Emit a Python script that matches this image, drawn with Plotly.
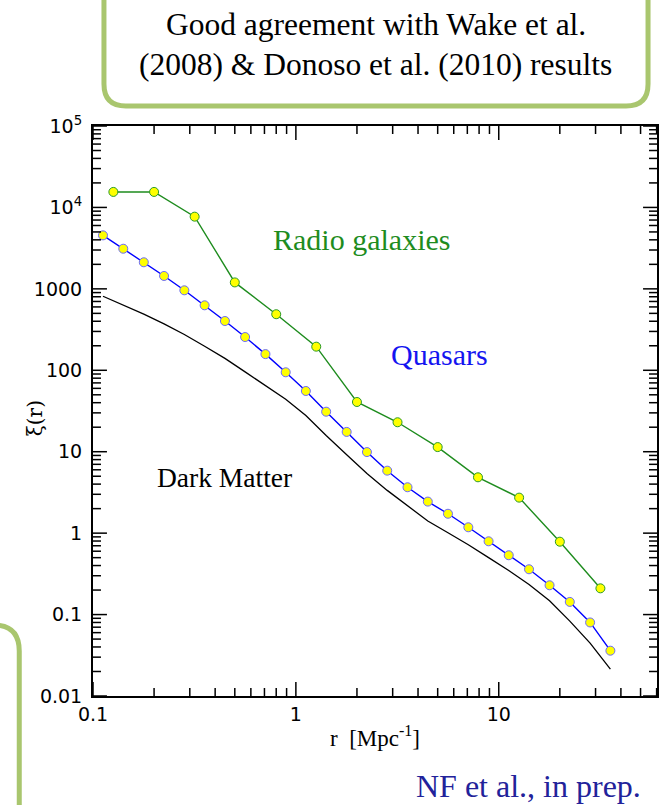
import math
import plotly.graph_objects as go

# Two-point correlation function xi(r) for radio galaxies, quasars and dark matter
radio_r = [0.126, 0.2, 0.317, 0.5, 0.8, 1.26, 2.0, 3.17, 5.0, 7.9, 12.6, 20.0, 31.7]
radio_xi = [15500, 15500, 7700, 1200, 488, 195, 40.8, 23, 11.4, 4.85, 2.73, 0.785, 0.21]

qso_r = [0.112, 0.141, 0.178, 0.224, 0.282, 0.355, 0.447, 0.562, 0.708, 0.891,
         1.12, 1.41, 1.78, 2.24, 2.82, 3.55, 4.47, 5.62, 7.08, 8.91,
         11.2, 14.1, 17.8, 22.4, 28.2, 35.5]
qso_xi = [4540, 3110, 2120, 1440, 960, 628, 403, 256, 158, 94.5,
          55.7, 31, 17.5, 9.9, 5.85, 3.66, 2.44, 1.73, 1.18, 0.794,
          0.535, 0.36, 0.229, 0.143, 0.080, 0.036]

dm_r = qso_r
dm_xi = [811, 631, 490, 372, 275, 197, 140, 95.5, 65.3, 44.2,
         27.9, 15.8, 9.2, 5.4, 3.35, 2.19, 1.41, 1.01, 0.72, 0.50,
         0.347, 0.234, 0.148, 0.083, 0.0447, 0.0214]

x_tickvals = [0.1, 1, 10]
x_ticktext = ["0.1", "1", "10"]
y_tickvals = [0.01, 0.1, 1, 10, 100, 1000, 1e4, 1e5]
y_ticktext = ["0.01", "0.1", "1", "10", "100", "1000", "10<sup>4</sup>", "10<sup>5</sup>"]

W, H = 668, 805
L, R, T, B = 93, 659, 126, 696   # plot-area edges in pixels

def px(x):
    return (x - L) / (R - L)

def py(y):
    return (B - y) / (B - T)

GREEN_BOX = "#a9c66e"
SERIF = "Liberation Serif, Times New Roman, serif"
XRANGE = [-1, 1.78]
YRANGE = [-2, 5]
MAJOR_LEN, MINOR_LEN = 14, 8

fig = go.Figure()

fig.add_trace(go.Scatter(
    x=dm_r, y=dm_xi, mode="lines",
    line=dict(color="black", width=1.3), showlegend=False))

fig.add_trace(go.Scatter(
    x=radio_r, y=radio_xi, mode="lines+markers",
    line=dict(color="#1e8c1e", width=1.4),
    marker=dict(size=9, color="#ffff00", line=dict(color="#2a9a2a", width=1)),
    showlegend=False))

fig.add_trace(go.Scatter(
    x=qso_r, y=qso_xi, mode="lines+markers",
    line=dict(color="#0000ff", width=1.4),
    marker=dict(size=9, color="#ffff00", line=dict(color="#6a6aff", width=1)),
    showlegend=False))

tick_font = dict(family="DejaVu Sans", size=19, color="black")
axis_common = dict(
    type="log", tickmode="array",
    showline=True, linecolor="black", linewidth=2, mirror=True,
    ticks="", showgrid=False, zeroline=False, tickfont=tick_font,
)

fig.update_layout(
    xaxis=dict(
        range=XRANGE, tickvals=x_tickvals, ticktext=x_ticktext,
        title=dict(text="r  [Mpc<sup>-1</sup>]",
                   font=dict(family=SERIF, size=23, color="black"), standoff=6),
        **axis_common,
    ),
    yaxis=dict(
        range=YRANGE, tickvals=y_tickvals, ticktext=y_ticktext, ticklabelstandoff=5,
        **axis_common,
    ),
)


def log_positions(decades, lo, hi):
    """(fraction along the axis, is_decade) for every 1..9 x 10^n inside [lo, hi]."""
    out = []
    for d in decades:
        for m in range(1, 10):
            lv = math.log10(m * d)
            if lo - 1e-9 <= lv <= hi + 1e-9:
                out.append(((lv - lo) / (hi - lo), m == 1))
    return out


# inward tick marks on all four sides: long at decades, short in between
shapes = []
tick_style = dict(color="black", width=1.5)
for f, major in log_positions(x_tickvals, *XRANGE):
    dy = (MAJOR_LEN if major else MINOR_LEN) / (B - T)
    for y0, y1 in [(0, dy), (1 - dy, 1)]:
        shapes.append(dict(type="line", xref="paper", yref="paper",
                           x0=f, x1=f, y0=y0, y1=y1, line=tick_style))
for f, major in log_positions(y_tickvals, *YRANGE):
    dx = (MAJOR_LEN if major else MINOR_LEN) / (R - L)
    for x0, x1 in [(0, dx), (1 - dx, 1)]:
        shapes.append(dict(type="line", xref="paper", yref="paper",
                           x0=x0, x1=x1, y0=f, y1=f, line=tick_style))

# Rounded callout box at the top
bx0, bx1, by1, r0 = 104, 650, 106, 22
top_box = (f"M {px(bx0)},{py(-10)} L {px(bx0)},{py(by1 - r0)} "
           f"Q {px(bx0)},{py(by1)} {px(bx0 + r0)},{py(by1)} "
           f"L {px(bx1 - r0)},{py(by1)} "
           f"Q {px(bx1)},{py(by1)} {px(bx1)},{py(by1 - r0)} "
           f"L {px(bx1)},{py(-10)}")
# Corner of a second box at the lower left
cx, cy, r1 = 19, 625, 26
low_box = (f"M {px(-10)},{py(cy)} L {px(cx - r1)},{py(cy)} "
           f"Q {px(cx)},{py(cy)} {px(cx)},{py(cy + r1)} "
           f"L {px(cx)},{py(815)}")

shapes += [
    dict(type="path", xref="paper", yref="paper", path=top_box,
         line=dict(color=GREEN_BOX, width=5), layer="above"),
    dict(type="path", xref="paper", yref="paper", path=low_box,
         line=dict(color=GREEN_BOX, width=5), layer="above"),
]

def label(text, x, y, size, color, family=SERIF, angle=0):
    return dict(text=text, x=px(x), y=py(y), xref="paper", yref="paper",
                xanchor="center", yanchor="middle", showarrow=False,
                textangle=angle, font=dict(family=family, size=size, color=color))

annotations = [
    label("Good agreement with Wake et al.", 377, 24, 31.5, "black"),
    label("(2008) &amp; Donoso et al. (2010) results", 377, 64, 31.5, "black"),
    label("Radio galaxies", 362, 240, 30, "#1e8c1e"),
    label("Quasars", 441, 354, 30, "#1414f0"),
    label("Dark Matter", 225, 477, 27.5, "black"),
    label("NF et al., in prep.", 530, 786, 32, "#22229a"),
    label("ξ(r)", 35, 418, 20, "black", family="DejaVu Serif", angle=-90),
]

fig.update_layout(
    width=W, height=H,
    margin=dict(l=L, r=W - R, t=T, b=H - B),
    paper_bgcolor="white", plot_bgcolor="white",
    shapes=shapes, annotations=annotations,
)

fig.write_html("out.html")
